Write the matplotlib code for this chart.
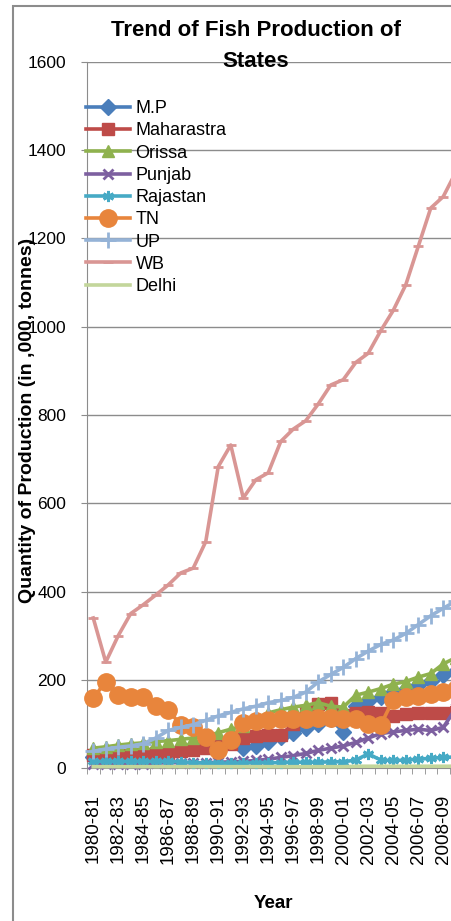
import matplotlib
matplotlib.use("Agg")
import matplotlib.pyplot as plt
from matplotlib.patches import Rectangle

plt.rcParams['font.family'] = ['Liberation Sans', 'DejaVu Sans']

years = ["1980-81", "1981-82", "1982-83", "1983-84", "1984-85", "1985-86",
         "1986-87", "1987-88", "1988-89", "1989-90", "1990-91", "1991-92",
         "1992-93", "1993-94", "1994-95", "1995-96", "1996-97", "1997-98",
         "1998-99", "1999-00", "2000-01", "2001-02", "2002-03", "2003-04",
         "2004-05", "2005-06", "2006-07", "2007-08", "2008-09", "2009-10"]

# production in '000 tonnes
mp = [25, 26, 27, 28, 30, 32, 38, 45, 50, 55, 58, 60, 45, 50, 60, 70, 80, 90,
      100, 110, 82, 140, 152, 160, 172, 180, 188, 198, 210, 220]
maharastra = [30, 30, 30, 30, 32, 33, 35, 38, 40, 45, 50, 55, 68, 72, 75, 75,
              100, 130, 145, 148, 120, 125, 128, 125, 118, 122, 125, 125, 125, 128]
orissa = [45, 48, 52, 55, 57, 60, 62, 65, 68, 72, 80, 88, 95, 112, 125, 132,
          138, 142, 148, 140, 138, 165, 172, 180, 190, 196, 206, 214, 236, 250]
punjab = [10, 10, 10, 10, 10, 11, 12, 12, 12, 12, 13, 14, 15, 17, 20, 24, 28,
          33, 40, 45, 50, 58, 68, 78, 82, 85, 88, 85, 92, 135]
rajastan = [15, 15, 15, 15, 15, 15, 15, 14, 12, 11, 11, 11, 11, 12, 12, 12, 13,
            13, 13, 14, 14, 18, 32, 18, 17, 18, 20, 22, 24, 25]
tn = [158, 196, 166, 160, 162, 141, 132, 97, 94, 71, 41, 63, 101, 107, 109,
      110, 110, 112, 113, 113, 112, 110, 100, 98, 155, 160, 163, 168, 172, 178]
up = [38, 43, 47, 50, 55, 68, 85, 92, 98, 108, 118, 126, 134, 140, 148, 153,
      160, 172, 195, 212, 228, 248, 265, 280, 290, 305, 325, 345, 362, 378]
wb = [340, 240, 300, 350, 370, 392, 415, 442, 453, 513, 683, 732, 612, 653,
      669, 740, 768, 787, 825, 868, 880, 919, 940, 991, 1037, 1095, 1182, 1269,
      1295, 1350]
delhi = [3, 3, 3, 3, 3, 3, 3, 3, 3, 3, 3, 3, 3, 3, 3, 3, 3, 3, 3, 3, 3, 4, 4,
         4, 4, 4, 4, 4, 4, 4]

series = [
    ("M.P", mp, "#4A7EBB", "D", 8),
    ("Maharastra", maharastra, "#BE4B48", "s", 9),
    ("Orissa", orissa, "#8FB24E", "^", 9),
    ("Punjab", punjab, "#7D60A0", "x", 7),
    ("Rajastan", rajastan, "#46AAC5", (6, 2, 0), 8),
    ("TN", tn, "#E8853C", "o", 12.5),
    ("UP", up, "#95B3D7", "+", 11),
    ("WB", wb, "#D99694", "_", 7),
    ("Delhi", delhi, "#C3D69B", "", 0),
]

W, H = 451, 921
fig = plt.figure(figsize=(W / 100, H / 100), dpi=100)
n = len(years)
step = 12.5
ax = fig.add_axes([87 / W, (H - 768) / H, n * step / W, (768 - 62) / H])

x = list(range(n))
for k, (name, vals, col, mk, ms) in enumerate(series):
    thin = mk in ("x", "+", "_", (6, 2, 0))
    ax.plot(x, vals, color=col, lw=2.6, marker=mk, ms=ms, mew=2 if thin else 1,
            mec=col, mfc=col, label=name, zorder=3 + k, clip_on=False)

ax.set_xlim(-0.5, n - 0.5)
ax.set_ylim(0, 1600)
ax.set_yticks(range(0, 1601, 200))
ax.set_xticks(range(0, n - 1, 2))
ax.set_xticklabels(years[0:n - 1:2], rotation=90)
ax.set_xticks([i - 0.5 for i in range(n + 1)], minor=True)

grid_col = "#8C8C8C"
ax.grid(axis="y", color=grid_col, lw=1.0)
ax.set_axisbelow(True)
for s in ("top", "right"):
    ax.spines[s].set_visible(False)
ax.spines["left"].set_color(grid_col)
ax.spines["bottom"].set_color(grid_col)
ax.tick_params(axis="y", length=4, color=grid_col, labelsize=12.5, pad=11)
ax.tick_params(axis="x", which="major", length=0, labelsize=13.5, pad=19)
ax.tick_params(axis="x", which="minor", length=4, color=grid_col)

ax.legend(loc="upper left", bbox_to_anchor=(-0.003, 0.946), frameon=False,
          fontsize=13, handlelength=2.45, handletextpad=0.3, labelspacing=0.29,
          borderaxespad=0, borderpad=0)

fig.text(256 / W, 1 - 46 / H, "Trend of Fish Production of\nStates", ha="center",
         va="center", fontsize=16, fontweight="bold", linespacing=1.6)
fig.text(28 / W, 1 - 420 / H, "Quantity of Production (in ,000, tonnes)", rotation=90,
         ha="center", va="center", fontsize=14, fontweight="bold")
fig.text(273 / W, 1 - 903 / H, "Year", ha="center", va="center", fontsize=13.5,
         fontweight="bold")

fig.add_artist(Rectangle((13 / W, -0.1), 2, 1 - 6 / H + 0.1, transform=fig.transFigure,
                         fill=False, ec="#8C8C8C", lw=1.5))

fig.savefig("out.png", dpi=100)
